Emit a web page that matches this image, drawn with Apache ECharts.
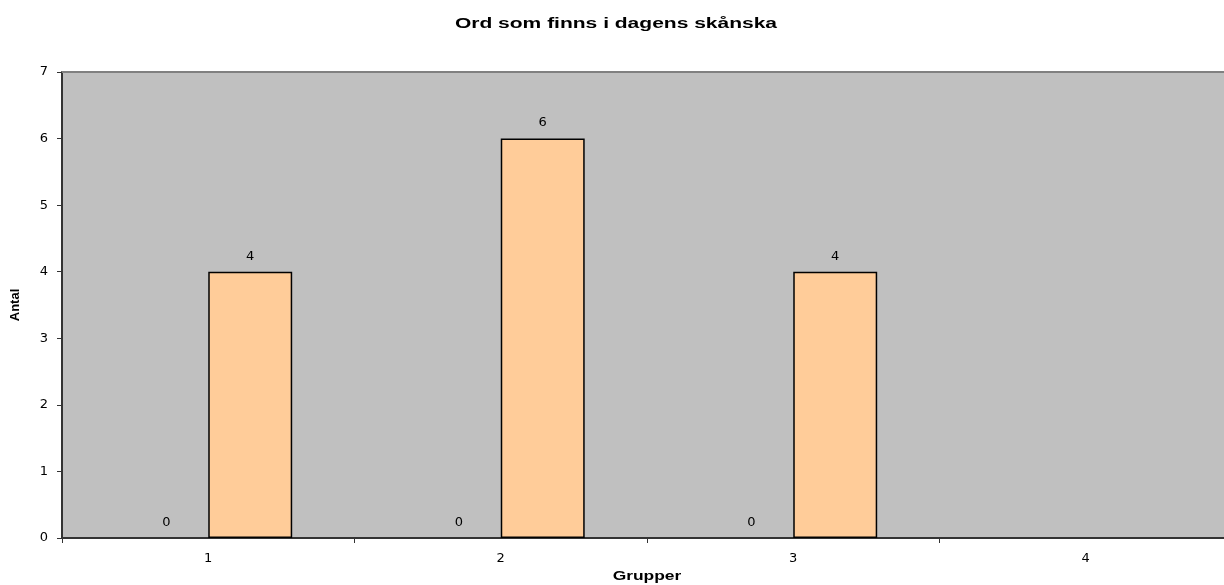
<!DOCTYPE html>
<html>
<head>
<meta charset="utf-8">
<script src="https://cdn.jsdelivr.net/npm/echarts@6/dist/echarts.min.js"></script>
<style>
  html, body { margin: 0; padding: 0; background: #fff; }
  #chart { width: 1224px; height: 585px; }
</style>
</head>
<body>
<div id="chart"></div>
<script>
// Grupper på x-axeln, antal ord per grupp i två serier
const categories = ['1', '2', '3', '4'];
const seriesA = [0, 0, 0, null];
const seriesB = [4, 6, 4, null];
const yTicks = { min: 0, max: 7, interval: 1 };
const titleText = 'Ord som finns i dagens skånska';
const xName = 'Grupper';
const yName = 'Antal';

const FONT = '"Liberation Sans", Arial, sans-serif';
const NUM_FONT = '"DejaVu Sans", "Liberation Sans", sans-serif';

const chart = echarts.init(document.getElementById('chart'));

const labelStyle = {
  show: true,
  position: 'top',
  distance: 9,
  color: '#000',
  fontFamily: NUM_FONT,
  fontSize: 13,
  formatter: p => (p.value == null ? '' : String(p.value))
};

chart.setOption({
  animation: false,
  backgroundColor: '#fff',
  grid: {
    left: 62,
    top: 72,
    width: 1170,
    height: 466,
    outerBoundsMode: 'none',
    containLabel: false,
    show: true,
    backgroundColor: '#C0C0C0',
    borderWidth: 0
  },
  xAxis: {
    type: 'category',
    data: categories,
    axisLine: { show: true, lineStyle: { color: '#333', width: 2 } },
    axisTick: { show: true, alignWithLabel: false, length: 5, lineStyle: { color: '#333' } },
    axisLabel: { fontFamily: NUM_FONT, fontSize: 13, color: '#000', margin: 14 },
    splitLine: { show: false }
  },
  yAxis: {
    type: 'value',
    min: yTicks.min,
    max: yTicks.max,
    interval: yTicks.interval,
    name: yName,
    nameLocation: 'middle',
    nameGap: 40,
    nameRotate: 90,
    nameTextStyle: { fontFamily: FONT, fontSize: 13, fontWeight: 'bold', color: '#000' },
    axisLine: { show: true, lineStyle: { color: '#333', width: 2 } },
    axisTick: { show: true, length: 5, lineStyle: { color: '#333' } },
    axisLabel: { fontFamily: NUM_FONT, fontSize: 13, color: '#000', margin: 14 },
    splitLine: { show: false }
  },
  graphic: [{
    // top border of the plot area
    type: 'line',
    shape: { x1: 62, y1: 72, x2: 1224, y2: 72 },
    style: { stroke: '#808080', lineWidth: 2 },
    z: 10
  }, {
    type: 'text',
    x: 616,
    y: 24,
    scaleX: 1.5,
    style: {
      text: titleText,
      font: 'bold 14px ' + FONT,
      fill: '#000',
      textAlign: 'center',
      textVerticalAlign: 'middle'
    }
  }, {
    type: 'text',
    x: 647,
    y: 577,
    scaleX: 1.45,
    style: {
      text: xName,
      font: 'bold 12px ' + FONT,
      fill: '#000',
      textAlign: 'center',
      textVerticalAlign: 'middle'
    }
  }],
  series: [{
    type: 'bar',
    data: seriesA,
    barGap: '0%',
    barCategoryGap: '42.6%',
    itemStyle: { color: '#9999FF', borderWidth: 0 },
    label: labelStyle
  }, {
    type: 'bar',
    data: seriesB,
    barGap: '0%',
    barCategoryGap: '42.6%',
    itemStyle: { color: '#FFCC99', borderColor: '#000', borderWidth: 1.5 },
    label: labelStyle
  }]
});
</script>
</body>
</html>
